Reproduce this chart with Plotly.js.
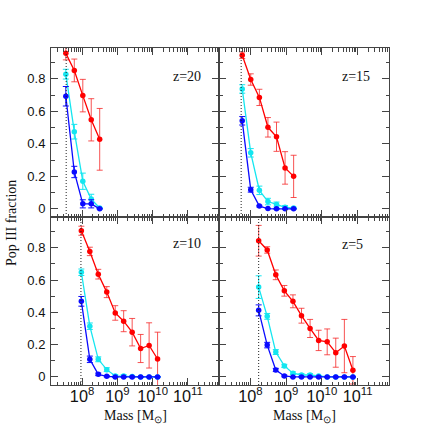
<!DOCTYPE html>
<html>
<head>
<meta charset="utf-8">
<script src="https://cdn.plot.ly/plotly-3.0.1.min.js"></script>
<style>html,body{margin:0;padding:0;background:#fff;}#chart{width:436px;height:436px;}</style>
</head>
<body>
<div id="chart"></div>
<script>
// ---- data ----
var panelLabels = ["z=20", "z=15", "z=10", "z=5"];
var thresholds = [3.55e7, 5.5e7, 9.3e7, 1.7e8];

var mass20 = [3.47e7, 6.03e7, 1.05e8, 1.82e8, 3.16e8];
var red20  = [0.957, 0.852, 0.697, 0.548, 0.428];
var redErr20 = [0.04, 0.07, 0.10, 0.13, 0.19];
var cyan20 = [0.829, 0.475, 0.17, 0.06, 0.005];
var cyanErr20 = [0.03, 0.045, 0.05, 0.03, 0.0];
var blue20 = [0.693, 0.227, 0.031, 0.031, 0.0];
var blueErr20 = [0.06, 0.035, 0.025, 0.025, 0.0];

var mass15 = [5.89e7, 1.02e8, 1.78e8, 3.09e8, 5.37e8, 9.33e8, 1.62e9];
var red15  = [0.945, 0.796, 0.686, 0.502, 0.444, 0.252, 0.2];
var redErr15 = [0.02, 0.035, 0.05, 0.06, 0.09, 0.1, 0.13];
var cyan15 = [0.738, 0.345, 0.114, 0.045, 0.027, 0.01, 0.005];
var cyanErr15 = [0.026, 0.026, 0.026, 0.02, 0.015, 0.01, 0.005];
var blue15 = [0.542, 0.118, 0.017, 0.002, 0.0, 0.0, 0.0];
var blueErr15 = [0.026, 0.015, 0.005, 0.0, 0.0, 0.0, 0.0];

var mass10 = [9.55e7, 1.66e8, 2.88e8, 5.01e8, 8.71e8, 1.51e9, 2.63e9, 4.57e9, 7.94e9, 1.38e10];
var red10  = [0.905, 0.777, 0.636, 0.525, 0.396, 0.345, 0.277, 0.176, 0.195, 0.111];
var redErr10 = [0.028, 0.026, 0.03, 0.034, 0.045, 0.065, 0.085, 0.087, 0.14, 0.166];
var cyan10 = [0.648, 0.314, 0.109, 0.045, 0.006, 0.006, 0.002, 0.0, 0.0, 0.0];
var cyanErr10 = [0.02, 0.02, 0.015, 0.012, 0.008, 0.008, 0.004, 0.0, 0.0, 0.0];
var blue10 = [0.468, 0.109, 0.016, 0.004, 0.0, 0.0, 0.0, 0.0, 0.0, 0.0];
var blueErr10 = [0.03, 0.02, 0.008, 0.004, 0.0, 0.0, 0.0, 0.0, 0.0, 0.0];

var mass5 = [1.70e8, 2.95e8, 5.13e8, 8.91e8, 1.55e9, 2.69e9, 4.68e9, 8.13e9, 1.41e10, 2.45e10, 4.27e10, 7.41e10];
var red5  = [0.843, 0.786, 0.632, 0.533, 0.468, 0.379, 0.3, 0.226, 0.217, 0.15, 0.191, 0.041];
var redErr5 = [0.095, 0.02, 0.03, 0.033, 0.04, 0.046, 0.056, 0.063, 0.08, 0.09, 0.165, 0.085];
var cyan5 = [0.556, 0.375, 0.154, 0.068, 0.023, 0.012, 0.012, 0.005, 0.0, 0.0, 0.0, 0.0];
var cyanErr5 = [0.07, 0.018, 0.015, 0.01, 0.008, 0.008, 0.008, 0.004, 0.0, 0.0, 0.0, 0.0];
var blue5 = [0.412, 0.197, 0.043, 0.006, 0.0, 0.0, 0.0, 0.0, 0.0, 0.0, 0.0, 0.0];
var blueErr5 = [0.034, 0.017, 0.01, 0.005, 0.0, 0.0, 0.0, 0.0, 0.0, 0.0, 0.0, 0.0];

// ---- styling ----
var RED = '#ff0000', RED_ERR = 'rgba(245,40,40,0.8)';
var CYAN = '#14e6f0', BLUE = '#0a0aff';
var FRAME = '#444444';
var SANS = 'Liberation Sans, Arial, sans-serif';
var SERIF = 'Liberation Serif, Times New Roman, serif';

var panels = [
  {xa:'x',  ya:'y',  m:mass20, r:red20, re:redErr20, c:cyan20, ce:cyanErr20, b:blue20, be:blueErr20},
  {xa:'x2', ya:'y2', m:mass15, r:red15, re:redErr15, c:cyan15, ce:cyanErr15, b:blue15, be:blueErr15},
  {xa:'x3', ya:'y3', m:mass10, r:red10, re:redErr10, c:cyan10, ce:cyanErr10, b:blue10, be:blueErr10},
  {xa:'x4', ya:'y4', m:mass5,  r:red5,  re:redErr5,  c:cyan5,  ce:cyanErr5,  b:blue5,  be:blueErr5}
];

function series(p, y, err, col, errCol) {
  return {
    type:'scatter', mode:'lines+markers', x:p.m, y:y, xaxis:p.xa, yaxis:p.ya,
    line:{color:col, width:1.3}, marker:{color:col, size:5.5},
    error_y:{type:'data', array:err, visible:true, color:errCol, thickness:1, width:3},
    showlegend:false, hoverinfo:'skip', cliponaxis:true
  };
}

var traces = [];
panels.forEach(function(p){
  traces.push(series(p, p.r, p.re, RED, RED_ERR));
  traces.push(series(p, p.c, p.ce, CYAN, CYAN));
  traces.push(series(p, p.b, p.be, BLUE, BLUE));
});

var W = 436, H = 436;
var xl = [51/W, 219/W], xr = [219/W, 389/W];
var yt = [(H-217)/H, (H-48)/H], yb = [(H-385)/H, (H-217)/H];
var xRange = [7.12, 11.88];
var yRange = [-0.05, 0.99];

function xaxis(dom, anchor, labels) {
  return {
    type:'log', domain:dom, anchor:anchor, range:xRange, dtick:1,
    exponentformat:'power', showexponent:'all',
    showgrid:false, zeroline:false, showline:true, linecolor:FRAME, linewidth:1,
    mirror:'allticks', ticks:'inside', ticklen:7, tickwidth:1, tickcolor:FRAME,
    minor:{ticks:'inside', ticklen:3.5, tickwidth:1, tickcolor:FRAME, dtick:'D1', showgrid:false},
    showticklabels:labels, ticklabelstandoff:-3,
    tickfont:{family:SANS, size:13, color:'#111'}, fixedrange:true
  };
}
function yaxis(dom, anchor, labels) {
  return {
    domain:dom, anchor:anchor, range:yRange, tick0:0, dtick:0.2,
    showgrid:false, zeroline:false, showline:true, linecolor:FRAME, linewidth:1,
    mirror:'allticks', ticks:'inside', ticklen:7, tickwidth:1, tickcolor:FRAME,
    minor:{ticks:'inside', ticklen:3.5, tickwidth:1, tickcolor:FRAME, dtick:0.1, showgrid:false},
    showticklabels:labels, ticklabelstandoff:2,
    tickfont:{family:SANS, size:13, color:'#111'}, fixedrange:true
  };
}

var shapes = [];
['x','x2','x3','x4'].forEach(function(ax, i){
  shapes.push({type:'line', xref:ax, yref:(i===0?'y':'y'+(i+1))+' domain',
    x0:thresholds[i], x1:thresholds[i], y0:0, y1:1,
    line:{color:'#222', width:1, dash:'1px,2px'}});
});

var zPos = [[187,76],[356,76],[187,243],[352,244]];
var annotations = panelLabels.map(function(t,i){
  return {text:t, xref:'paper', yref:'paper', x:zPos[i][0]/W, y:1-zPos[i][1]/H,
    xanchor:'center', yanchor:'middle', showarrow:false,
    font:{family:SERIF, size:14, color:'#111'}};
});
annotations.push({text:'Mass [M<sub>⊙</sub>]', xref:'paper', yref:'paper', x:135/W, y:1-416/H,
  xanchor:'center', yanchor:'middle', showarrow:false, font:{family:SERIF, size:14, color:'#111'}});
annotations.push({text:'Mass [M<sub>⊙</sub>]', xref:'paper', yref:'paper', x:304/W, y:1-416/H,
  xanchor:'center', yanchor:'middle', showarrow:false, font:{family:SERIF, size:14, color:'#111'}});
annotations.push({text:'Pop III fraction', xref:'paper', yref:'paper', x:11/W, y:1-223/H,
  xanchor:'center', yanchor:'middle', textangle:-90, showarrow:false, font:{family:SERIF, size:14, color:'#111'}});

var layout = {
  width:W, height:H, margin:{l:0, r:0, t:0, b:0},
  paper_bgcolor:'#fff', plot_bgcolor:'#fff', showlegend:false,
  xaxis: xaxis(xl, 'y', false),
  yaxis: yaxis(yt, 'x', true),
  xaxis2: xaxis(xr, 'y2', false),
  yaxis2: yaxis(yt, 'x2', false),
  xaxis3: xaxis(xl, 'y3', true),
  yaxis3: yaxis(yb, 'x3', true),
  xaxis4: xaxis(xr, 'y4', true),
  yaxis4: yaxis(yb, 'x4', false),
  shapes: shapes, annotations: annotations
};

Plotly.newPlot('chart', traces, layout, {staticPlot:true, displayModeBar:false});
</script>
</body>
</html>
